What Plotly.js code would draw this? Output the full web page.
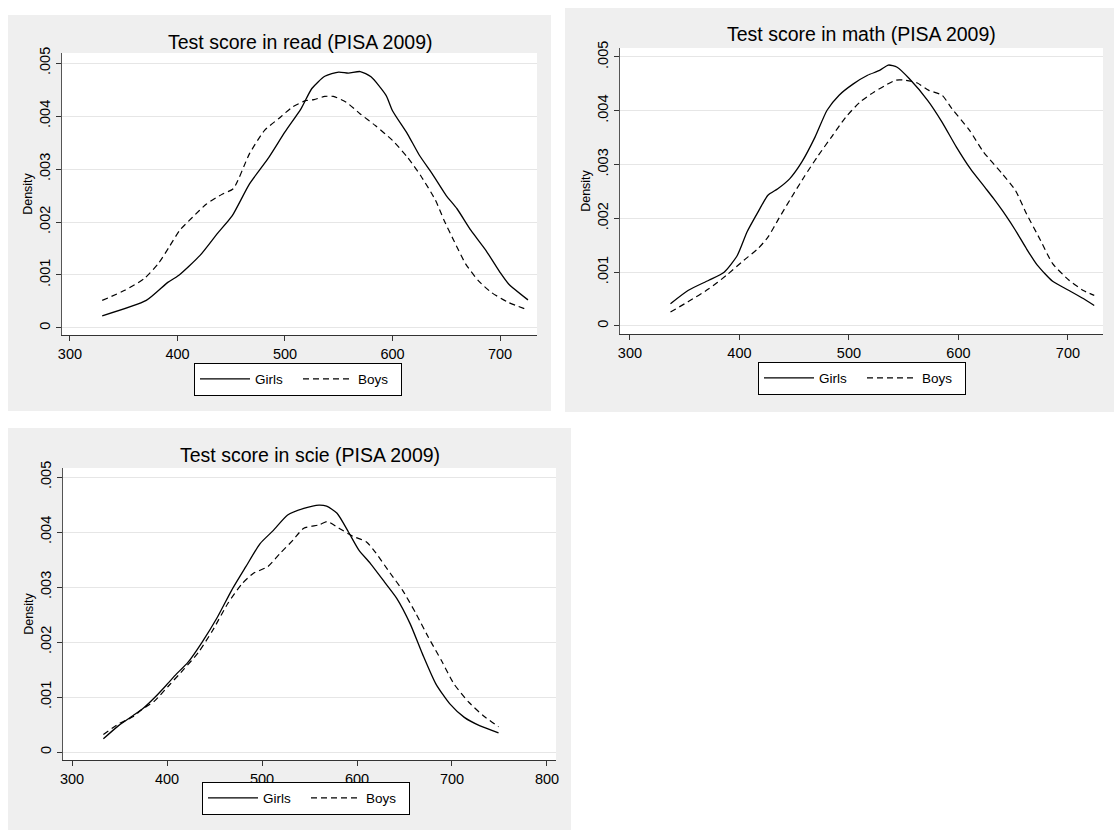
<!DOCTYPE html>
<html>
<head>
<meta charset="utf-8">
<script src="https://cdn.plot.ly/plotly-3.0.1.min.js"></script>
<style>
  html, body { margin: 0; padding: 0; background: #ffffff; }
  #chart { width: 1114px; height: 832px; }
</style>
</head>
<body>
<div id="chart"></div>
<script>
// Kernel density of PISA 2009 test scores, girls vs boys
var readGirlsX = [330, 371, 391, 401, 421, 437, 451, 467, 484, 500, 515, 525, 537, 550, 559, 570, 580, 594, 600, 614, 625, 637, 650, 660, 673, 687, 700, 708, 726];
var readGirlsY = [0.00023, 0.00052, 0.00086, 0.00099, 0.00137, 0.00178, 0.00212, 0.00272, 0.00319, 0.0037, 0.00414, 0.00452, 0.00475, 0.00483, 0.00481, 0.00484, 0.00474, 0.00439, 0.0041, 0.00366, 0.00326, 0.00291, 0.0025, 0.00225, 0.00184, 0.00146, 0.00105, 0.00083, 0.00053];
var readBoysX = [330, 351, 369, 382, 392, 402, 414, 427, 442, 452, 467, 481, 494, 507, 519, 527, 537, 545, 557, 570, 584, 600, 614, 627, 640, 648, 657, 668, 680, 692, 708, 726];
var readBoysY = [0.00052, 0.00071, 0.00093, 0.00121, 0.00152, 0.00184, 0.00209, 0.00234, 0.00253, 0.00263, 0.00329, 0.00373, 0.00395, 0.00417, 0.00429, 0.00431, 0.00437, 0.00437, 0.00426, 0.00404, 0.00382, 0.00354, 0.00322, 0.00285, 0.00241, 0.00203, 0.00165, 0.00121, 0.00089, 0.00067, 0.00048, 0.00034];

var mathGirlsX = [337, 353, 372, 386, 398, 407, 417, 426, 435, 446, 457, 469, 480, 491, 504, 517, 528, 536, 544, 555, 572, 585, 598, 611, 624, 632, 643, 652, 662, 672, 686, 701, 714, 724];
var mathGirlsY = [0.000415, 0.00066, 0.00085, 0.001, 0.00131, 0.00175, 0.00212, 0.00243, 0.00255, 0.00274, 0.00305, 0.00351, 0.00401, 0.00429, 0.0045, 0.00466, 0.00475, 0.00485, 0.00481, 0.0046, 0.00419, 0.00379, 0.00333, 0.00292, 0.00258, 0.00237, 0.00206, 0.00178, 0.00144, 0.00113, 0.00083, 0.00066, 0.00051, 0.00038];
var mathBoysX = [337, 353, 372, 388, 404, 417, 426, 436, 446, 459, 472, 485, 497, 510, 523, 533, 543, 551, 562, 573, 585, 594, 610, 623, 640, 652, 662, 675, 686, 701, 714, 724];
var mathBoysY = [0.00026, 0.00045, 0.00069, 0.00094, 0.00122, 0.00144, 0.00165, 0.002, 0.00234, 0.00277, 0.00317, 0.00354, 0.00388, 0.00416, 0.00435, 0.00447, 0.00457, 0.00457, 0.00452, 0.00438, 0.00429, 0.00404, 0.00364, 0.00323, 0.00283, 0.00252, 0.00209, 0.00159, 0.00116, 0.00085, 0.00066, 0.00057];

var scieGirlsX = [333, 349, 364, 374, 387, 399, 410, 422, 437, 453, 468, 483, 498, 512, 527, 544, 560, 568, 579, 591, 602, 614, 629, 642, 656, 669, 683, 698, 713, 729, 749];
var scieGirlsY = [0.00024, 0.00048, 0.00066, 0.00078, 0.00099, 0.00121, 0.00142, 0.00163, 0.002, 0.00245, 0.00294, 0.00337, 0.00379, 0.00403, 0.00431, 0.00443, 0.00449, 0.00447, 0.00434, 0.004, 0.00367, 0.00343, 0.00309, 0.00279, 0.00233, 0.00178, 0.00124, 0.00087, 0.00063, 0.00048, 0.00035];
var scieBoysX = [333, 349, 364, 374, 387, 402, 418, 433, 448, 464, 479, 491, 506, 519, 533, 544, 560, 569, 581, 596, 610, 619, 635, 648, 662, 675, 689, 702, 718, 733, 749];
var scieBoysY = [0.00032, 0.00051, 0.00064, 0.00078, 0.00093, 0.00121, 0.00151, 0.00181, 0.00221, 0.0027, 0.00306, 0.00325, 0.00337, 0.00361, 0.00386, 0.00407, 0.00413, 0.00419, 0.00407, 0.00392, 0.00382, 0.00364, 0.00325, 0.00294, 0.00252, 0.00209, 0.00166, 0.00124, 0.0009, 0.00066, 0.00046];

var panelTitles = ['Test score in read (PISA 2009)', 'Test score in math (PISA 2009)', 'Test score in scie (PISA 2009)'];
var seriesNames = ['Girls', 'Boys'];
var yTickVals = [0, 0.001, 0.002, 0.003, 0.004, 0.005];
var yTickText = ['0', '.001', '.002', '.003', '.004', '.005'];
var xTicksShort = [300, 400, 500, 600, 700];
var xTicksLong = [300, 400, 500, 600, 700, 800];

var W = 1114, H = 832;
var FONT = 'Liberation Sans, Arial, sans-serif';

function px(x) { return x / W; }
function py(y) { return 1 - y / H; }

var solid = { color: '#000000', width: 1.3, shape: 'spline', smoothing: 0.6 };
var dashed = { color: '#000000', width: 1.2, dash: '6px,4px', shape: 'spline', smoothing: 0.6 };

function pair(xa, ya, gx, gy, bx, by, lg) {
  return [
    { x: gx, y: gy, xaxis: xa, yaxis: ya, type: 'scatter', mode: 'lines', name: seriesNames[0], line: solid, legend: lg, hoverinfo: 'skip' },
    { x: bx, y: by, xaxis: xa, yaxis: ya, type: 'scatter', mode: 'lines', name: seriesNames[1], line: dashed, legend: lg, hoverinfo: 'skip' }
  ];
}

var data = []
  .concat(pair('x', 'y', readGirlsX, readGirlsY, readBoysX, readBoysY, 'legend'))
  .concat(pair('x2', 'y2', mathGirlsX, mathGirlsY, mathBoysX, mathBoysY, 'legend2'))
  .concat(pair('x3', 'y3', scieGirlsX, scieGirlsY, scieBoysX, scieBoysY, 'legend3'));

function xAxis(domain, range, ticks, anchor) {
  return {
    domain: domain, range: range, anchor: anchor,
    tickmode: 'array', tickvals: ticks, ticktext: ticks.map(String),
    ticks: 'outside', ticklen: 5, tickwidth: 1, tickcolor: '#333',
    showline: true, linecolor: '#333', linewidth: 1.2,
    showgrid: false, zeroline: false,
    tickfont: { family: FONT, size: 14.5, color: '#000' }
  };
}
function yAxis(domain, range, anchor) {
  return {
    domain: domain, range: range, anchor: anchor,
    tickmode: 'array', tickvals: yTickVals, ticktext: yTickText, tickangle: -90,
    ticks: 'outside', ticklen: 5, tickwidth: 1, tickcolor: '#333',
    showline: true, linecolor: '#555', linewidth: 1.2,
    showgrid: true, gridcolor: '#e6e6e6', gridwidth: 1, zeroline: false,
    tickfont: { family: FONT, size: 14.5, color: '#000' },
    title: { text: 'Density', font: { family: FONT, size: 12.5, color: '#000' }, standoff: 1 }
  };
}

// panel boxes (light grey) and white plot regions
var shapes = [
  { type: 'rect', xref: 'paper', yref: 'paper', x0: px(8), x1: px(551), y0: py(411), y1: py(15), fillcolor: '#efefef', line: { width: 0 }, layer: 'below' },
  { type: 'rect', xref: 'paper', yref: 'paper', x0: px(565), x1: px(1114), y0: py(412), y1: py(8), fillcolor: '#efefef', line: { width: 0 }, layer: 'below' },
  { type: 'rect', xref: 'paper', yref: 'paper', x0: px(8), x1: px(571), y0: py(830), y1: py(428), fillcolor: '#efefef', line: { width: 0 }, layer: 'below' },
  { type: 'rect', xref: 'x domain', yref: 'y domain', x0: 0, x1: 1, y0: 0, y1: 1, fillcolor: '#ffffff', line: { width: 0 }, layer: 'below' },
  { type: 'rect', xref: 'x2 domain', yref: 'y2 domain', x0: 0, x1: 1, y0: 0, y1: 1, fillcolor: '#ffffff', line: { width: 0 }, layer: 'below' },
  { type: 'rect', xref: 'x3 domain', yref: 'y3 domain', x0: 0, x1: 1, y0: 0, y1: 1, fillcolor: '#ffffff', line: { width: 0 }, layer: 'below' }
];

function titleAnn(text, x, y) {
  return { text: text, xref: 'paper', yref: 'paper', x: px(x), y: py(y), xanchor: 'center', yanchor: 'middle',
           showarrow: false, font: { family: FONT, size: 19.5, color: '#000' } };
}

function legendBox(x, y) {
  return {
    x: px(x), y: py(y), xref: 'paper', yref: 'paper', xanchor: 'center', yanchor: 'middle',
    orientation: 'h', bgcolor: '#ffffff', bordercolor: '#000000', borderwidth: 1,
    font: { family: FONT, size: 13.5, color: '#000' }, itemwidth: 50,
    entrywidth: 38, entrywidthmode: 'pixels',
    tracegroupgap: 0
  };
}

var layout = {
  width: W, height: H,
  margin: { l: 0, r: 0, t: 0, b: 0 },
  paper_bgcolor: '#ffffff', plot_bgcolor: 'rgba(0,0,0,0)',
  showlegend: true,
  xaxis: xAxis([px(62), px(537)], [292.6, 734.4], xTicksShort, 'y'),
  yaxis: yAxis([py(335), py(53)], [-0.000133, 0.00519], 'x'),
  xaxis2: xAxis([px(620), px(1103)], [290.9, 732], xTicksShort, 'y2'),
  yaxis2: yAxis([py(334), py(48)], [-0.000149, 0.005167], 'x2'),
  xaxis3: xAxis([px(63), px(556)], [290.5, 809.5], xTicksLong, 'y3'),
  yaxis3: yAxis([py(760), py(468)], [-0.000145, 0.005164], 'x3'),
  shapes: shapes,
  annotations: [
    titleAnn(panelTitles[0], 300, 42),
    titleAnn(panelTitles[1], 861, 34),
    titleAnn(panelTitles[2], 310, 455)
  ],
  legend: legendBox(298, 379),
  legend2: legendBox(862, 378),
  legend3: legendBox(306, 798)
};

Plotly.newPlot('chart', data, layout, { staticPlot: true, displayModeBar: false });
</script>
</body>
</html>
